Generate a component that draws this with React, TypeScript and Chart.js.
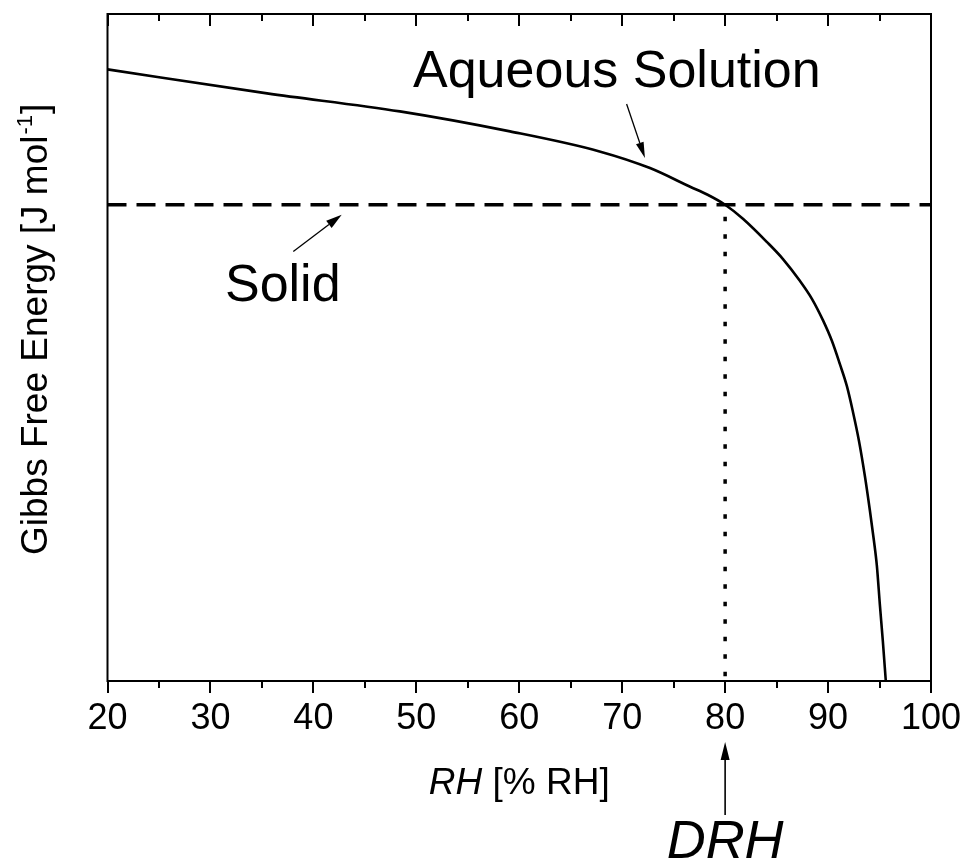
import React, { useEffect, useRef } from "react";
import { Chart, registerables } from "chart.js";

Chart.register(...registerables);

// ---- data ----
const rhValues = [
  20, 35.5, 48.4, 59.1, 67.8, 72.7, 76.6, 78.3, 80, 81.73, 84.07, 85.6, 87.26, 88.43, 89.5, 90.37, 91.15,
  91.83, 92.41, 92.99, 93.58, 94.06, 94.45, 94.74, 95.03, 95.32, 95.61,
];
const aqueousG = [
  91.7, 88.1, 85.4, 82.4, 79.4, 76.9, 74.1, 72.9, 71.4, 69.3, 65.8, 63.3, 60.0, 57.3, 54.1, 51.0, 47.5,
  44.2, 40.4, 36.1, 30.7, 25.6, 21.1, 17.3, 11.5, 6.0, 0,
];
const solidRange = [20, 100];
const solidG = 71.4;
const drhValue = 80;
const xMajorTicks = [20, 30, 40, 50, 60, 70, 80, 90, 100];
const xMinorTicks = [25, 35, 45, 55, 65, 75, 85, 95];
const aqueousLabel = "Aqueous Solution";
const solidLabel = "Solid";
const drhLabel = "DRH";
const xTitleItalic = "RH";
const xTitleRest = " [% RH]";
const yTitleMain = "Gibbs Free Energy [J mol";
const yTitleSup = "-1";
const yTitleEnd = "]";

// annotation anchors (data coordinates)
const aqueousAnchor = { x: 49.68, y: 89.1 };
const aqueousArrow = { x1: 70.43, y1: 86.5, x2: 72.21, y2: 78.4 };
const solidAnchor = { x: 31.41, y: 57.0 };
const solidArrow = { x1: 38.05, y1: 64.4, x2: 42.75, y2: 69.9 };

const FONT = '"Liberation Sans", Arial, Helvetica, sans-serif';

function drawArrow(ctx: CanvasRenderingContext2D, x1: number, y1: number, x2: number, y2: number, headLen: number, headHalf: number, lw: number) {
  const ang = Math.atan2(y2 - y1, x2 - x1);
  const bx = x2 - headLen * Math.cos(ang);
  const by = y2 - headLen * Math.sin(ang);
  ctx.lineWidth = lw;
  ctx.beginPath();
  ctx.moveTo(x1, y1);
  ctx.lineTo(bx, by);
  ctx.stroke();
  ctx.beginPath();
  ctx.moveTo(x2, y2);
  ctx.lineTo(bx + headHalf * Math.sin(ang), by - headHalf * Math.cos(ang));
  ctx.lineTo(bx - headHalf * Math.sin(ang), by + headHalf * Math.cos(ang));
  ctx.closePath();
  ctx.fill();
}

const annotPlugin = {
  id: "annot",
  afterDatasetsDraw(chart: any) {
    const { ctx, chartArea: a, scales } = chart;
    const xs = scales.x;
    const ys = scales.y;
    ctx.save();
    ctx.strokeStyle = "#000";
    ctx.fillStyle = "#000";
    ctx.lineWidth = 2;
    ctx.strokeRect(a.left, a.top, a.right - a.left, a.bottom - a.top);

    // ticks
    ctx.beginPath();
    for (const v of xMajorTicks) {
      const px = Math.round(xs.getPixelForValue(v));
      ctx.moveTo(px, a.bottom);
      ctx.lineTo(px, a.bottom + 12);
      ctx.moveTo(px, a.top);
      ctx.lineTo(px, a.top + 12);
    }
    for (const v of xMinorTicks) {
      const px = Math.round(xs.getPixelForValue(v));
      ctx.moveTo(px, a.bottom);
      ctx.lineTo(px, a.bottom + 7);
      ctx.moveTo(px, a.top);
      ctx.lineTo(px, a.top + 7);
    }
    ctx.stroke();

    // annotations
    ctx.textBaseline = "alphabetic";
    ctx.textAlign = "left";
    ctx.font = `52px ${FONT}`;
    ctx.fillText(aqueousLabel, xs.getPixelForValue(aqueousAnchor.x), ys.getPixelForValue(aqueousAnchor.y));
    ctx.fillText(solidLabel, xs.getPixelForValue(solidAnchor.x), ys.getPixelForValue(solidAnchor.y));
    drawArrow(ctx, xs.getPixelForValue(aqueousArrow.x1), ys.getPixelForValue(aqueousArrow.y1), xs.getPixelForValue(aqueousArrow.x2), ys.getPixelForValue(aqueousArrow.y2), 16, 4, 1.3);
    drawArrow(ctx, xs.getPixelForValue(solidArrow.x1), ys.getPixelForValue(solidArrow.y1), xs.getPixelForValue(solidArrow.x2), ys.getPixelForValue(solidArrow.y2), 16, 4.5, 1.3);

    // DRH
    const dx = xs.getPixelForValue(drhValue);
    ctx.font = `italic 54px ${FONT}`;
    ctx.textAlign = "center";
    ctx.fillText(drhLabel, dx, a.bottom + 177);
    drawArrow(ctx, dx, a.bottom + 134, dx, a.bottom + 61, 18, 4.5, 1.6);

    // x title
    ctx.textAlign = "left";
    ctx.font = `italic 37px ${FONT}`;
    const w1 = ctx.measureText(xTitleItalic).width;
    ctx.font = `37px ${FONT}`;
    const w2 = ctx.measureText(xTitleRest).width;
    const cx = (a.left + a.right) / 2;
    const sx = cx - (w1 + w2) / 2;
    const ty = a.bottom + 113;
    ctx.font = `italic 37px ${FONT}`;
    ctx.fillText(xTitleItalic, sx, ty);
    ctx.font = `37px ${FONT}`;
    ctx.fillText(xTitleRest, sx + w1, ty);

    // y title (rotated)
    ctx.save();
    ctx.translate(a.left - 61, a.bottom - 126);
    ctx.rotate(-Math.PI / 2);
    ctx.font = `37px ${FONT}`;
    const m1 = ctx.measureText(yTitleMain).width;
    ctx.fillText(yTitleMain, 0, 0);
    ctx.font = `22px ${FONT}`;
    const m2 = ctx.measureText(yTitleSup).width;
    ctx.fillText(yTitleSup, m1 + 1, -15);
    ctx.font = `37px ${FONT}`;
    ctx.fillText(yTitleEnd, m1 + m2 + 2, 0);
    ctx.restore();

    ctx.restore();
  },
};

export default function App() {
  const ref = useRef<HTMLCanvasElement | null>(null);
  useEffect(() => {
    if (!ref.current) return;
    const chart = new Chart(ref.current, {
      type: "line",
      data: {
        datasets: [
          {
            label: "Aqueous Solution",
            data: rhValues.map((v, i) => ({ x: v, y: aqueousG[i] })),
            borderColor: "#000",
            borderWidth: 2.6,
            pointRadius: 0,
            cubicInterpolationMode: "monotone",
            fill: false,
          },
          {
            label: "Solid",
            data: solidRange.map((v) => ({ x: v, y: solidG })),
            borderColor: "#000",
            borderWidth: 3.5,
            borderDash: [19, 10],
            pointRadius: 0,
            fill: false,
          },
          {
            label: "DRH",
            data: [
              { x: drhValue, y: solidG },
              { x: drhValue, y: 0 },
            ],
            borderColor: "#000",
            borderWidth: 3.5,
            borderDash: [4.5, 13],
            borderDashOffset: -12,
            pointRadius: 0,
            fill: false,
          },
        ],
      },
      options: {
        animation: false,
        responsive: true,
        maintainAspectRatio: false,
        layout: { padding: { left: 107.5, top: 14, right: 33, bottom: 0 } },
        plugins: { legend: { display: false }, tooltip: { enabled: false } },
        scales: {
          x: {
            type: "linear",
            min: 20,
            max: 100,
            afterFit: (s: any) => {
              s.height = 179;
              s.paddingLeft = 0;
              s.paddingRight = 0;
            },
            grid: { display: false, drawTicks: false },
            border: { display: false },
            ticks: {
              stepSize: 10,
              padding: 16,
              color: "#000",
              font: { size: 36, family: FONT },
              maxRotation: 0,
            },
          },
          y: { type: "linear", min: 0, max: 100, display: false },
        },
      },
      plugins: [annotPlugin],
    } as any);
    return () => chart.destroy();
  }, []);
  return (
    <div style={{ position: "fixed", left: 0, top: 0, width: 964, height: 860, background: "#fff" }}>
      <canvas ref={ref} />
    </div>
  );
}
